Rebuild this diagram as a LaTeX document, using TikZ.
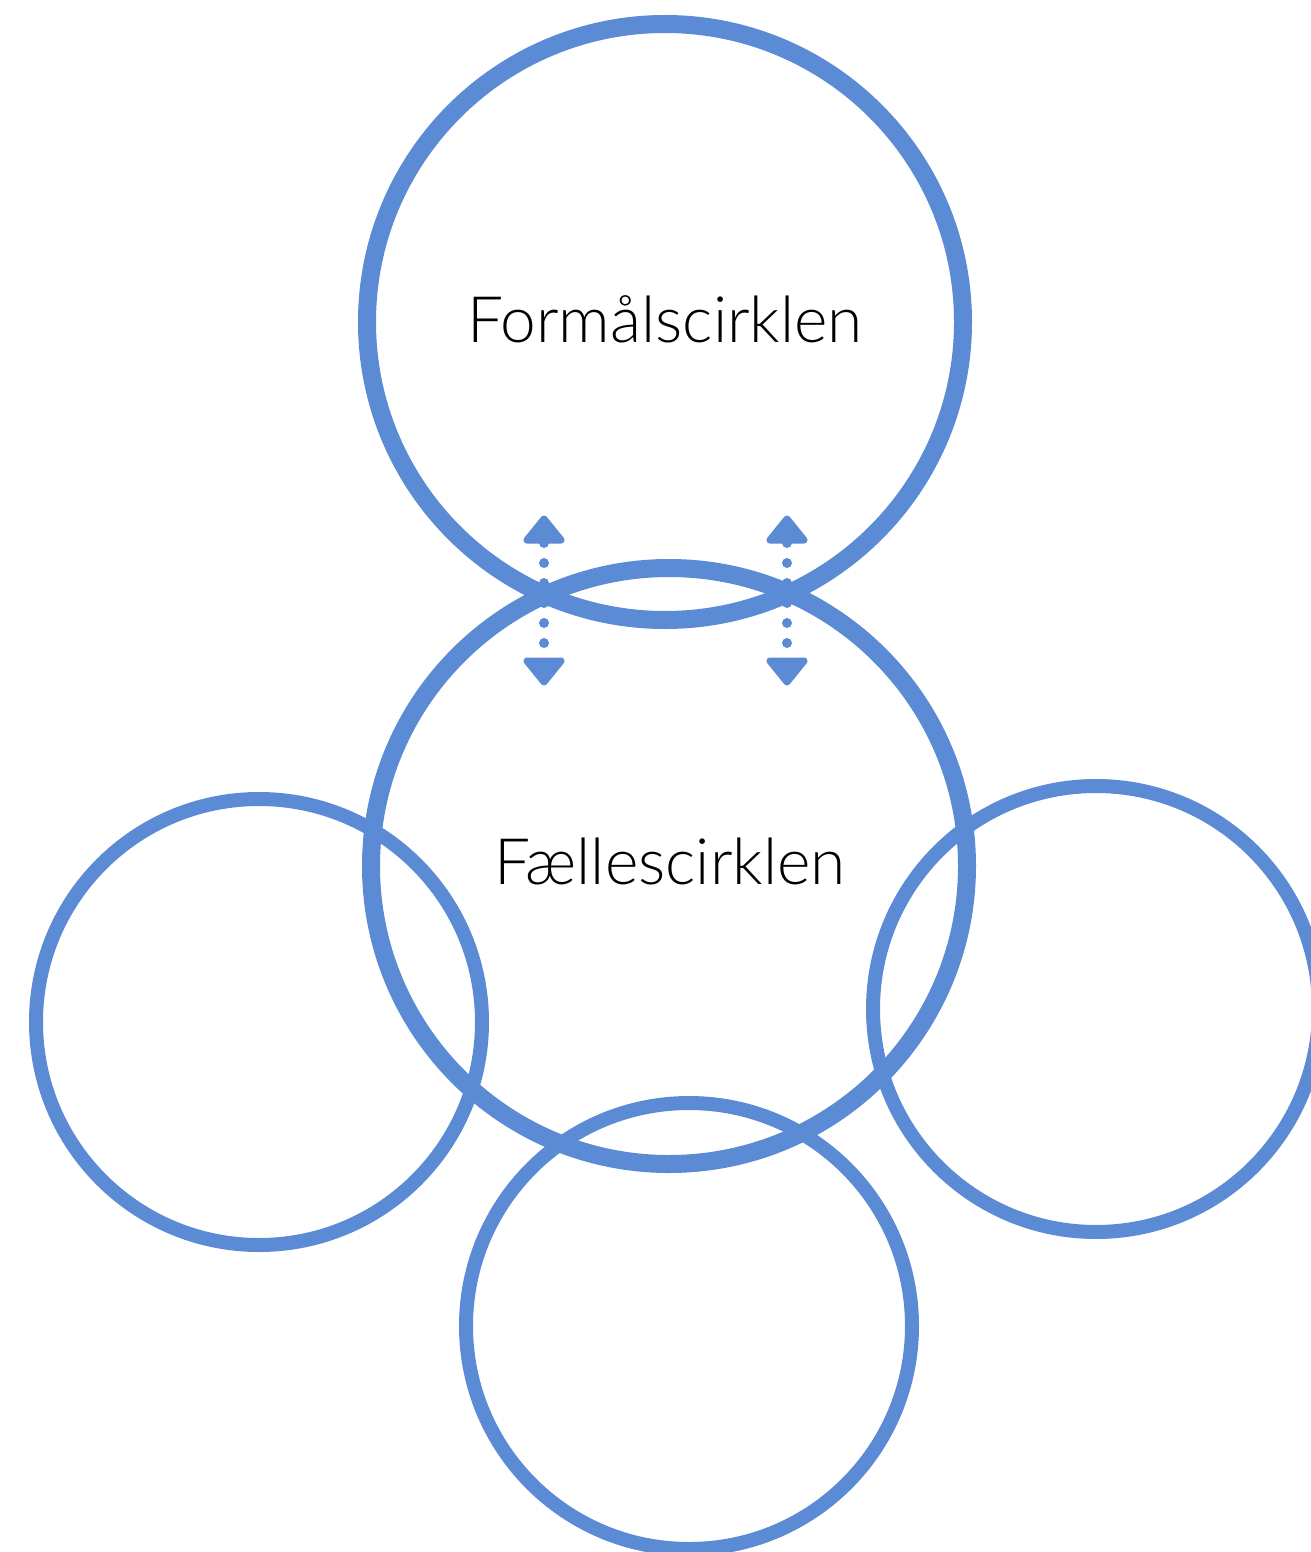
\documentclass[tikz,border=0pt]{standalone}
\usepackage{fontspec}
\setmainfont{Lato}[UprightFont=* Light]
\definecolor{ringblue}{RGB}{91,139,213}
\tikzset{
  bigring/.style={draw=ringblue, line width=18pt, circle, minimum size=596pt, inner sep=0pt, fill=none},
  smallring/.style={draw=ringblue, line width=14pt, circle, minimum size=446pt, inner sep=0pt, fill=none},
  label/.style={font=\fontsize{64}{70}\selectfont, text=black, anchor=base},
  dotline/.style={draw=ringblue, line width=10pt, line cap=round, dash pattern=on 0pt off 20pt},
  headtip/.style={draw=ringblue, fill=ringblue, line width=7pt, line join=round}
}
\begin{document}
\begin{tikzpicture}[x=1pt, y=-1pt]
  \useasboundingbox (0,0) rectangle (1310,1552);
  % main circles
  \node[bigring] (purpose) at (665,322) {};
  \node[bigring] (common) at (669,866) {};
  % satellite circles
  \node[smallring] (left) at (259,1022) {};
  \node[smallring] (right) at (1096,1009) {};
  \node[smallring] (bottom) at (689,1326) {};
  % labels
  \node[label] (purposetext) at (665,342) {Formålscirklen};
  \node[label] (commontext) at (670,884) {Fællescirklen};
  % two-way dotted links between the main circles
  \coordinate (la) at (544,519);
  \coordinate (lb) at (544,682);
  \coordinate (ra) at (787,519);
  \coordinate (rb) at (787,682);
  \coordinate (la1) at (544,543);
  \coordinate (lb1) at (544,646);
  \coordinate (ra1) at (787,543);
  \coordinate (rb1) at (787,646);
  \draw[dotline] (la1) -- (lb1);
  \draw[dotline] (ra1) -- (rb1);
  % arrow heads
  \filldraw[headtip] (la) -- ++(-17,21) -- ++(34,0) -- cycle;
  \filldraw[headtip] (lb) -- ++(-17,-21) -- ++(34,0) -- cycle;
  \filldraw[headtip] (ra) -- ++(-17,21) -- ++(34,0) -- cycle;
  \filldraw[headtip] (rb) -- ++(-17,-21) -- ++(34,0) -- cycle;
\end{tikzpicture}
\end{document}
